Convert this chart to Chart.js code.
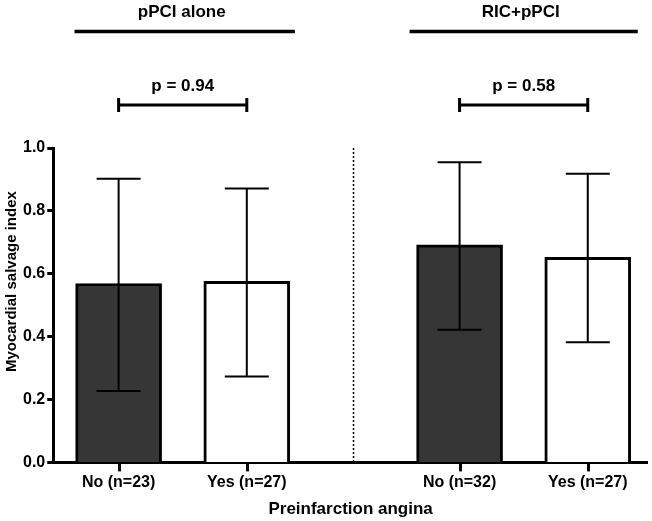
<!DOCTYPE html>
<html>
<head>
<meta charset="utf-8">
<script src="https://cdn.jsdelivr.net/npm/chart.js@4.4.1/dist/chart.umd.min.js"></script>
<style>
  body { margin: 0; background: #fff; }
  #wrap { width: 652px; height: 521px; }
</style>
</head>
<body>
<div id="wrap"><canvas id="salvageChart"></canvas></div>
<script>
// data
const groupLabels = ["No (n=23)", "Yes (n=27)", "No (n=32)", "Yes (n=27)"];
const groupPositions = [1, 2, 3.66, 4.66];
const meanValues = [0.569, 0.576, 0.692, 0.652];
const upperValues = [0.902, 0.871, 0.955, 0.918];
const lowerValues = [0.227, 0.273, 0.422, 0.382];
const yTicks = [0, 0.2, 0.4, 0.6, 0.8, 1.0];

// panel headers and p-value comparisons
const panelTitles = ["pPCI alone", "RIC+pPCI"];
const panelSpans = [[0.656, 2.375], [3.27, 5.05]];
const pLabels = ["p = 0.94", "p = 0.58"];
const pPairs = [[0, 1], [2, 3]];
const dividerAt = 2.83;

const FONT = "'Liberation Sans', Arial, sans-serif";
const barColors = ["#363636", "#ffffff", "#363636", "#ffffff"];

// error bars, divider, headers, brackets, y title
const extrasPlugin = {
    id: "extras",
    afterDatasetsDraw(chart) {
        const { ctx, chartArea, scales: { x, y } } = chart;
        ctx.save();
        ctx.strokeStyle = "#000";
        ctx.fillStyle = "#000";

        // error bars
        ctx.lineWidth = 2;
        groupPositions.forEach((p, i) => {
            const px = x.getPixelForValue(p);
            const top = y.getPixelForValue(upperValues[i]);
            const bot = y.getPixelForValue(lowerValues[i]);
            ctx.beginPath();
            ctx.moveTo(px, top); ctx.lineTo(px, bot);
            ctx.moveTo(px - 22, top); ctx.lineTo(px + 22, top);
            ctx.moveTo(px - 22, bot); ctx.lineTo(px + 22, bot);
            ctx.stroke();
        });

        // dotted divider between panels
        ctx.lineWidth = 1.5;
        ctx.setLineDash([2, 2]);
        const dx = Math.round(x.getPixelForValue(dividerAt)) + 0.5;
        ctx.beginPath();
        ctx.moveTo(dx, chartArea.top);
        ctx.lineTo(dx, chartArea.bottom);
        ctx.stroke();
        ctx.setLineDash([]);

        ctx.textAlign = "center";
        ctx.textBaseline = "middle";
        ctx.font = "bold 17px " + FONT;

        // panel headers
        panelTitles.forEach((t, i) => {
            const [a, b] = panelSpans[i];
            const xa = x.getPixelForValue(a), xb = x.getPixelForValue(b);
            ctx.fillText(t, (xa + xb) / 2 - 3, 12);
            ctx.lineWidth = 3.5;
            ctx.beginPath();
            ctx.moveTo(xa, 31.5); ctx.lineTo(xb, 31.5);
            ctx.stroke();
        });

        // p-value brackets
        pLabels.forEach((t, i) => {
            const xa = x.getPixelForValue(groupPositions[pPairs[i][0]]);
            const xb = x.getPixelForValue(groupPositions[pPairs[i][1]]);
            ctx.fillText(t, (xa + xb) / 2, 86);
            ctx.lineWidth = 3;
            ctx.beginPath();
            ctx.moveTo(xa, 105); ctx.lineTo(xb, 105);
            ctx.moveTo(xa, 98); ctx.lineTo(xa, 112);
            ctx.moveTo(xb, 98); ctx.lineTo(xb, 112);
            ctx.stroke();
        });

        // y axis title
        ctx.font = "bold 15px " + FONT;
        ctx.translate(12, y.getPixelForValue(0.575));
        ctx.rotate(-Math.PI / 2);
        ctx.fillText("Myocardial salvage index", 0, 0);
        ctx.restore();
    },
    afterDraw(chart) {
        // x tick marks under each bar
        const { ctx, scales: { x, y } } = chart;
        const base = y.getPixelForValue(0);
        ctx.save();
        ctx.strokeStyle = "#000";
        ctx.lineWidth = 3;
        groupPositions.forEach((p) => {
            const px = Math.round(x.getPixelForValue(p)) + 0.5;
            ctx.beginPath();
            ctx.moveTo(px, base);
            ctx.lineTo(px, base + 9);
            ctx.stroke();
        });
        ctx.restore();
    }
};

new Chart(document.getElementById("salvageChart"), {
    type: "bar",
    data: {
        datasets: [{
            data: groupPositions.map((p, i) => ({ x: p, y: meanValues[i] })),
            backgroundColor: barColors,
            borderColor: "#000",
            borderWidth: 3,
            borderSkipped: "start",
            barThickness: 86
        }]
    },
    options: {
        responsive: true,
        maintainAspectRatio: false,
        animation: false,
        layout: { padding: { top: 148, right: 4, left: 21, bottom: 0 } },
        plugins: {
            legend: { display: false },
            tooltip: { enabled: false }
        },
        scales: {
            x: {
                type: "linear",
                min: 0.49,
                max: 5.13,
                offset: false,
                afterBuildTicks: (scale) => {
                    scale.ticks = groupPositions.map(v => ({ value: v }));
                },
                ticks: {
                    callback: (v, i) => groupLabels[i],
                    color: "#000",
                    font: { family: FONT, size: 16, weight: "bold" },
                    padding: 3,
                    maxRotation: 0,
                    autoSkip: false
                },
                grid: { display: true, drawOnChartArea: false, drawTicks: true, tickLength: 8, tickWidth: 0, lineWidth: 0, color: "rgba(0,0,0,0)" },
                border: { display: true, width: 3, color: "#000" },
                title: {
                    display: true,
                    text: "Preinfarction angina",
                    color: "#000",
                    font: { family: FONT, size: 17, weight: "bold" },
                    padding: { top: 4, bottom: 1 }
                }
            },
            y: {
                min: 0,
                max: 1,
                afterBuildTicks: (scale) => {
                    scale.ticks = yTicks.map(v => ({ value: v }));
                },
                ticks: {
                    callback: (v) => v.toFixed(1),
                    color: "#000",
                    font: { family: FONT, size: 16, weight: "bold" },
                    padding: 2
                },
                grid: { drawOnChartArea: false, drawTicks: true, tickLength: 6, tickWidth: 3, color: "#000" },
                border: { display: true, width: 3, color: "#000" }
            }
        }
    },
    plugins: [extrasPlugin]
});
</script>
</body>
</html>
